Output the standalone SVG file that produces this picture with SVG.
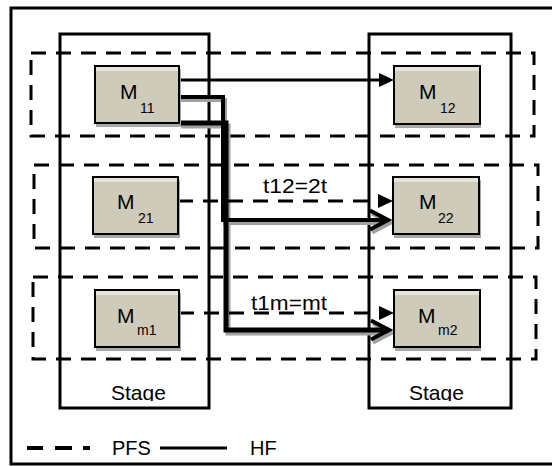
<svg xmlns="http://www.w3.org/2000/svg" width="552" height="466" viewBox="0 0 552 466">
<style>
.frame{fill:none;stroke:#000;stroke-width:3}
.row{fill:none;stroke:#000;stroke-width:3;stroke-dasharray:15 10}
.stage{fill:none;stroke:#000;stroke-width:3}
.box{fill:#cecbbb;stroke:#000;stroke-width:2}
.hl{fill:#e6e4d8}
.bshadow{fill:#a8a8a8}
.t{font-family:"Liberation Sans",Arial,sans-serif;fill:#000}
.big{font-size:21px}
.sub{font-size:14px}
.lbl{font-size:20px}
.stg{font-size:21px}
.line{fill:none;stroke:#000}
.sh{fill:none;stroke:#a0a0a0}
.dash{fill:none;stroke:#000;stroke-width:3;stroke-dasharray:15 10}
</style>
<defs>
<marker id="tri" markerUnits="userSpaceOnUse" viewBox="0 0 15 14" markerWidth="15" markerHeight="14" refX="4" refY="7" orient="auto">
<path d="M0,0 L15,7 L0,14 z" fill="#000"/>
</marker>
<marker id="chev" markerUnits="userSpaceOnUse" viewBox="0 0 24 24" markerWidth="24" markerHeight="24" refX="20" refY="12" orient="auto">
<path d="M2,2.5 L20,12 L2,21.5" fill="none" stroke="#000" stroke-width="4"/>
</marker>
<marker id="chevsh" markerUnits="userSpaceOnUse" viewBox="0 0 24 24" markerWidth="24" markerHeight="24" refX="20" refY="12" orient="auto">
<path d="M2,2.5 L20,12 L2,21.5" fill="none" stroke="#a0a0a0" stroke-width="4"/>
</marker>
<clipPath id="stclip"><rect x="0" y="0" width="552" height="401"/></clipPath>
</defs>

<rect class="frame" x="11" y="8" width="560" height="456"/>

<g id="rows">
<rect class="row" x="31" y="53" width="503" height="83"/>
<rect class="row" x="34" y="165" width="504" height="83"/>
<rect class="row" x="33" y="277" width="503" height="82"/>
</g>

<g id="stage-left">
<rect class="stage" x="60" y="34" width="149" height="374"/>
<text class="t stg" x="111" y="400" clip-path="url(#stclip)">Stage</text>
</g>
<g id="stage-right">
<rect class="stage" x="369" y="34" width="142" height="374"/>
<text class="t stg" x="409" y="400" clip-path="url(#stclip)">Stage</text>
</g>

<g id="connectors">
<path class="sh" stroke-width="4" d="M181,100 H225 V223 H390" marker-end="url(#chevsh)"/>
<path class="sh" stroke-width="5" d="M181,126 H228 V333 H391" marker-end="url(#chevsh)"/>
<path class="line" stroke-width="3" d="M179,80 H383" marker-end="url(#tri)"/>
<path class="line" stroke-width="4" d="M179,97 H223 V220 H388" marker-end="url(#chev)"/>
<path class="line" stroke-width="5" d="M179,123 H226 V330 H389" marker-end="url(#chev)"/>
<path class="dash" d="M178,201 H382" marker-end="url(#tri)"/>
<path class="dash" d="M179,313 H383" marker-end="url(#tri)"/>
<text class="t lbl" x="263" y="193" textLength="64" lengthAdjust="spacingAndGlyphs">t12=2t</text>
<text class="t lbl" x="251" y="310" textLength="76" lengthAdjust="spacingAndGlyphs">t1m=mt</text>
</g>

<g id="m11">
<rect class="bshadow" x="96" y="69" width="85" height="58"/>
<rect class="box" x="95" y="66" width="84" height="57"/>
<rect class="hl" x="96" y="67" width="82" height="4"/>
<text class="t big" x="120" y="99">M</text>
<text class="t sub" x="140" y="113">11</text>
</g>
<g id="m12">
<rect class="bshadow" x="395" y="69" width="86" height="59"/>
<rect class="box" x="394" y="66" width="86" height="58"/>
<rect class="hl" x="395" y="67" width="84" height="4"/>
<text class="t big" x="419" y="99">M</text>
<text class="t sub" x="440" y="113">12</text>
</g>
<g id="m21">
<rect class="bshadow" x="94" y="180" width="86" height="58"/>
<rect class="box" x="93" y="177" width="85" height="57"/>
<rect class="hl" x="94" y="178" width="83" height="4"/>
<text class="t big" x="117" y="209">M</text>
<text class="t sub" x="138" y="223">21</text>
</g>
<g id="m22">
<rect class="bshadow" x="394" y="180" width="87" height="58"/>
<rect class="box" x="393" y="177" width="86" height="57"/>
<rect class="hl" x="394" y="178" width="84" height="4"/>
<text class="t big" x="419" y="209">M</text>
<text class="t sub" x="438" y="223">22</text>
</g>
<g id="mm1">
<rect class="bshadow" x="96" y="293" width="85" height="58"/>
<rect class="box" x="95" y="290" width="84" height="57"/>
<rect class="hl" x="96" y="291" width="82" height="4"/>
<text class="t big" x="117" y="323">M</text>
<text class="t sub" x="137" y="335">m1</text>
</g>
<g id="mm2">
<rect class="bshadow" x="395" y="293" width="86" height="58"/>
<rect class="box" x="394" y="290" width="86" height="57"/>
<rect class="hl" x="395" y="291" width="84" height="4"/>
<text class="t big" x="418" y="323">M</text>
<text class="t sub" x="438" y="335">m2</text>
</g>

<g id="legend">
<path class="line" stroke-width="4" d="M27,448 H43 M55,448 H72 M83,448 H90"/>
<text class="t lbl" x="112" y="455">PFS</text>
<path class="line" stroke-width="3" d="M160,448 H227"/>
<text class="t lbl" x="250" y="455">HF</text>
</g>
</svg>
